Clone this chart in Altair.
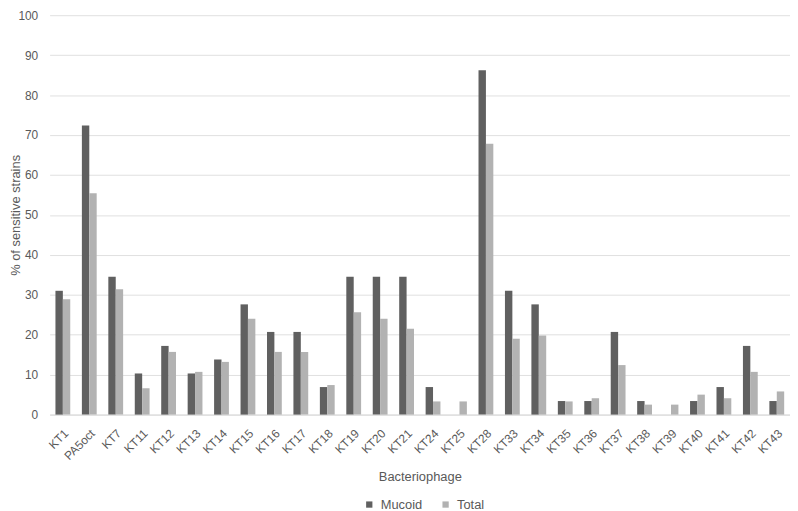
import altair as alt
import pandas as pd

phages = ["KT1", "PA5oct", "KT7", "KT11", "KT12", "KT13", "KT14", "KT15", "KT16", "KT17",
          "KT18", "KT19", "KT20", "KT21", "KT24", "KT25", "KT28", "KT33", "KT34", "KT35",
          "KT36", "KT37", "KT38", "KT39", "KT40", "KT41", "KT42", "KT43"]
mucoid = [31.0, 72.4, 34.5, 10.3, 17.2, 10.3, 13.8, 27.6, 20.7, 20.7,
          6.9, 34.5, 34.5, 34.5, 6.9, 0.0, 86.2, 31.0, 27.6, 3.4,
          3.4, 20.7, 3.4, 0.0, 3.4, 6.9, 17.2, 3.4]
total = [28.9, 55.4, 31.4, 6.6, 15.7, 10.7, 13.2, 24.0, 15.7, 15.7,
         7.4, 25.6, 24.0, 21.5, 3.3, 3.3, 67.8, 19.0, 19.8, 3.3,
         4.1, 12.4, 2.5, 2.5, 5.0, 4.1, 10.7, 5.8]
series = ["Mucoid", "Total"]
colors = ["#606060", "#b2b2b2"]

rows = []
for p, m, t in zip(phages, mucoid, total):
    rows.append({"phage": p, "series": series[0], "value": m})
    rows.append({"phage": p, "series": series[1], "value": t})
df = pd.DataFrame(rows)

font = "Liberation Sans"

chart = alt.Chart(df).mark_bar().encode(
    x=alt.X("phage:N", sort=phages, title="Bacteriophage",
            scale=alt.Scale(paddingInner=0.44, paddingOuter=0.22),
            axis=alt.Axis(labelAngle=-45, ticks=False, domainColor="#d9d9d9",
                          labelColor="#595959", labelFontSize=12, labelFont=font,
                          titleColor="#595959", titleFontSize=13, titleFont=font,
                          titleFontWeight="normal", titlePadding=9, labelPadding=13)),
    xOffset=alt.XOffset("series:N", sort=series, scale=alt.Scale(paddingInner=0, paddingOuter=0)),
    y=alt.Y("value:Q", title="% of sensitive strains",
            scale=alt.Scale(domain=[0, 100], nice=False),
            axis=alt.Axis(values=list(range(0, 101, 10)), ticks=False, domain=False,
                          gridColor="#e0e0e0", labelColor="#595959", labelFontSize=12,
                          labelFont=font, labelPadding=12, titleColor="#595959",
                          titleFontSize=13, titleFont=font, titleFontWeight="normal",
                          titleX=-34, titleBaseline="middle")),
    color=alt.Color("series:N", sort=series, title=None,
                    scale=alt.Scale(domain=series, range=colors),
                    legend=alt.Legend(orient="none", legendX=316, legendY=487,
                                      direction="horizontal", symbolType="square",
                                      symbolSize=40, labelFontSize=13, labelFont=font,
                                      labelColor="#595959", columnPadding=17,
                                      labelOffset=5, symbolStrokeWidth=0)),
).properties(
    width=747, height=403,
    autosize=alt.AutoSizeParams(type="none"),
    padding={"left": 42, "top": 5, "right": 0, "bottom": 95},
).configure_view(stroke=None)

chart.save("out.html", embed_options={"renderer": "svg", "actions": False})
